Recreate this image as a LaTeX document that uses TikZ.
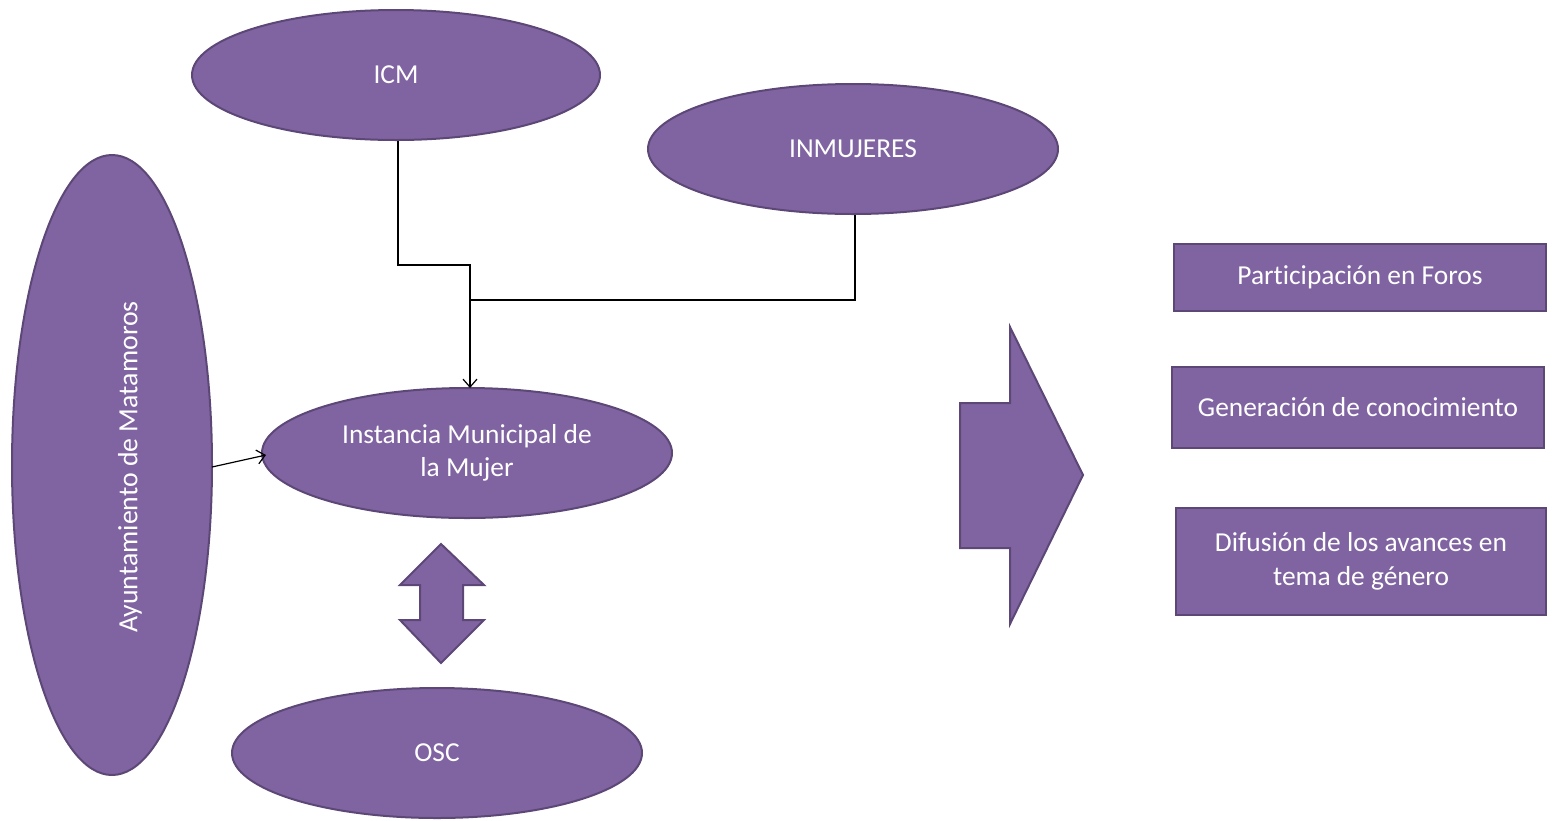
\documentclass[tikz,border=0pt]{standalone}
\usepackage{fontspec}
\setmainfont[Ligatures={NoCommon}]{Carlito}
\usetikzlibrary{shapes.geometric,arrows.meta}
\definecolor{pfill}{HTML}{8064A2}
\definecolor{pdraw}{HTML}{5C4776}
\tikzset{
  ov/.style={ellipse, fill=pfill, draw=pdraw, line width=1pt, inner sep=0pt, text=white, align=center, font=\fontsize{13.7}{16.5}\selectfont},
  bx/.style={rectangle, fill=pfill, draw=pdraw, line width=1.2pt, inner sep=0pt, text=white, align=center, font=\fontsize{13.7}{17}\selectfont},
  shp/.style={fill=pfill, draw=pdraw, line width=1pt, line join=miter},
  conn/.style={draw=black, line width=0.6pt},
  tip/.style={-{Straight Barb[length=4pt,width=7pt]}}
}
\begin{document}
\begin{tikzpicture}[x=0.5pt,y=-0.5pt]
\useasboundingbox (0,0) rectangle (1552,820);
% ellipses
\node[ov, minimum width=204pt, minimum height=65pt] (icm) at (396,75) {ICM};
\node[ov, minimum width=205pt, minimum height=65pt] (inm) at (853,149) {INMUJERES};
\node[ov, minimum width=100pt, minimum height=310pt] (ayu) at (112,465) {};
\node[rotate=90, text=white, font=\fontsize{13.9}{16}\selectfont] (ayut) at ([xshift=9pt,yshift=-1pt]ayu.center) {Ayuntamiento de Matamoros};
\node[ov, minimum width=205pt, minimum height=65pt] (imm) at (467,453) {Instancia Municipal de\\la Mujer};
\node[ov, minimum width=205pt, minimum height=65pt] (osc) at (437,753) {OSC};
% boxes
\node[bx, minimum width=186pt, minimum height=33.5pt] (b1) at (1360,277.5) {Participación en Foros};
\node[bx, minimum width=186pt, minimum height=40.5pt] (b2) at (1358,407.5) {Generación de conocimiento};
\node[bx, minimum width=185pt, minimum height=53.5pt] (b3) at (1361,561.5) {Difusión de los avances en\\tema de género};
% connectors
\coordinate (j1) at (398,265);
\coordinate (j2) at (470,265);
\coordinate (j3) at (470,300);
\coordinate (j4) at (855,300);
\coordinate (ie) at (470,388);
\draw[conn] (icm.south -| j1) -- (j1) -- (j2) -- (j3);
\draw[conn] (inm.south -| j4) -- (j4) -- (j3);
\draw[conn, tip] (j3) -- (ie);
\coordinate (aa) at (212,467);
\coordinate (ab) at (266,455);
\draw[conn, tip] (aa) -- (ab);
% double arrow
\draw[shp] (441,544) -- (484,585) -- (463,585) -- (463,620) -- (484,620) -- (441,663) -- (400,620) -- (420,620) -- (420,585) -- (400,585) -- cycle;
% big right arrow
\draw[shp] (960,403) -- (1010,403) -- (1010,327) -- (1083,475) -- (1010,624) -- (1010,548) -- (960,548) -- cycle;
\end{tikzpicture}
\end{document}
